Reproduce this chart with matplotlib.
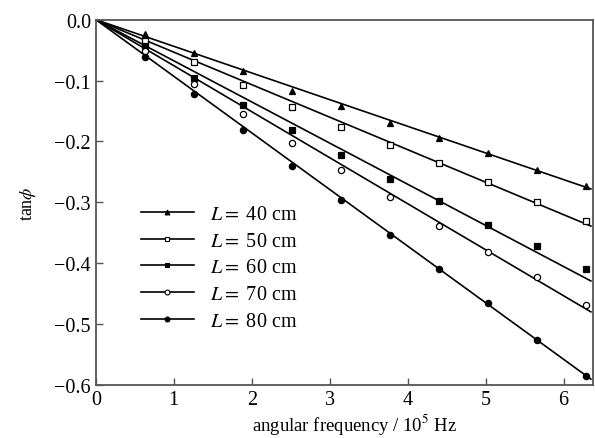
import numpy as np
import matplotlib
matplotlib.use('Agg')
import matplotlib.pyplot as plt

plt.rcParams['font.family'] = ['Liberation Serif', 'DejaVu Serif']
plt.rcParams['mathtext.fontset'] = 'stix'

# angular frequency, 10^5 Hz
omega = [0.628, 1.257, 1.885, 2.513, 3.142, 3.770, 4.398, 5.027, 5.655, 6.283]

# measured tan(phi) for each cable length
tan_40 = [-0.024, -0.054, -0.085, -0.117, -0.142, -0.170, -0.195, -0.219, -0.247, -0.273]
tan_50 = [-0.035, -0.069, -0.108, -0.144, -0.176, -0.206, -0.236, -0.266, -0.299, -0.330]
tan_60 = [-0.044, -0.096, -0.140, -0.181, -0.222, -0.261, -0.298, -0.337, -0.372, -0.410]
tan_70 = [-0.052, -0.105, -0.155, -0.202, -0.247, -0.291, -0.339, -0.381, -0.423, -0.468]
tan_80 = [-0.062, -0.122, -0.181, -0.240, -0.296, -0.354, -0.410, -0.465, -0.526, -0.586]

# slopes of the fitted lines through the origin
fit_slopes = [-0.0438, -0.0534, -0.0676, -0.0756, -0.0930]

labels = ['$L=$ 40 cm', '$L=$ 50 cm', '$L=$ 60 cm', '$L=$ 70 cm', '$L=$ 80 cm']
series = [tan_40, tan_50, tan_60, tan_70, tan_80]
markers = [('^', 'k'), ('s', 'white'), ('s', 'k'), ('o', 'white'), ('o', 'k')]


def fmt_tick(v, pos):
    s = f'{v:.1f}'
    if s == '-0.0':
        s = '0.0'
    return s.replace('-', '\u2212')


fig = plt.figure(figsize=(5.95, 4.39), dpi=100)
ax = fig.add_axes([0.161, 0.121, 0.836, 0.832])

x_fit = np.array([0, 6.35])
for vals, slope, (m, fc), lab in zip(series, fit_slopes, markers, labels):
    ax.plot(x_fit, slope * x_fit, color='k', lw=1.2, zorder=2)
    ax.plot(omega, vals, linestyle='none', marker=m, ms=4.5, mfc=fc,
            mec='k', mew=0.9, zorder=3)
    # legend proxy
    ax.plot([], [], color='k', lw=1.2, marker=m, ms=3.5, mfc=fc,
            mec='k', mew=0.8, label=lab)

ax.set_xlim(0, 6.38)
ax.set_ylim(-0.6, 0.0)
ax.set_xticks(range(0, 7))
ax.set_yticks(np.arange(-0.6, 0.01, 0.1))
ax.yaxis.set_major_formatter(matplotlib.ticker.FuncFormatter(fmt_tick))
ax.tick_params(direction='in', length=5, width=1, labelsize=14.5, color='#555555')
for sp in ax.spines.values():
    sp.set_color('#555555')
    sp.set_linewidth(1.3)

ax.set_xlabel('angular frequency / 10$^5$ Hz', fontsize=13.5)
ax.xaxis.set_label_coords(0.52, -0.072)
ax.set_ylabel(r'tan$\phi$', fontsize=13, labelpad=12)

ax.legend(loc='upper left', bbox_to_anchor=(0.075, 0.515), frameon=False,
          fontsize=14.5, handlelength=2.6, handletextpad=0.8, labelspacing=0.38,
          borderaxespad=0)

fig.savefig('out.png', dpi=100)
